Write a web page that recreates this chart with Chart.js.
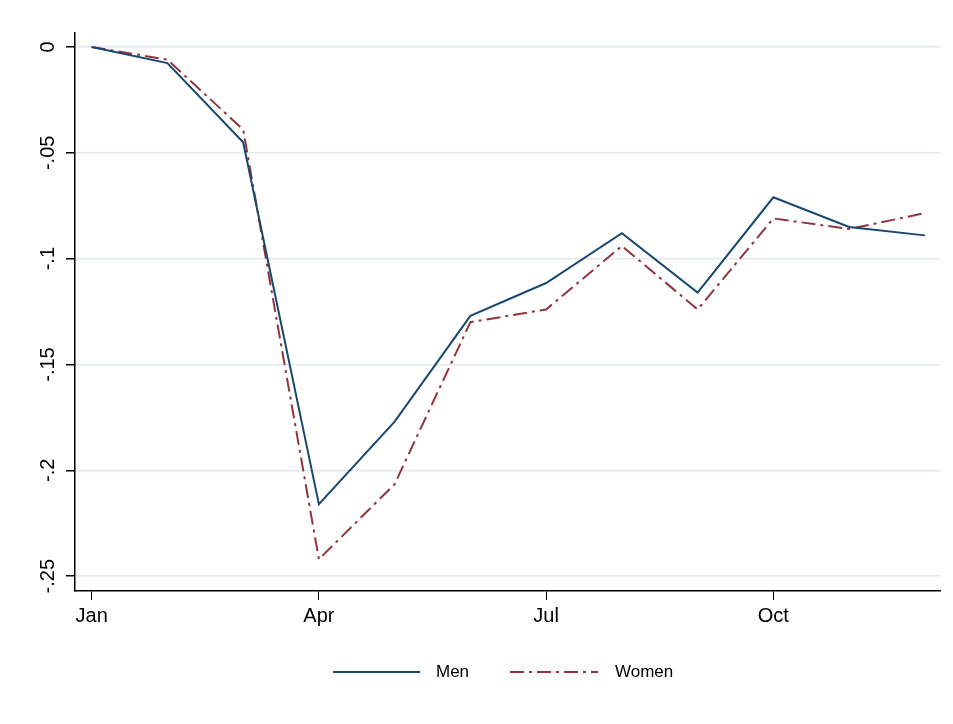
<!DOCTYPE html>
<html><head><meta charset="utf-8">
<script src="https://cdn.jsdelivr.net/npm/chart.js@4/dist/chart.umd.min.js"></script>
<style>html,body{margin:0;background:#fff}#w{width:953px;height:724px;position:relative}</style>
</head><body><div id="w"><canvas id="c"></canvas></div>
<script>
const months=['Jan','Feb','Mar','Apr','May','Jun','Jul','Aug','Sep','Oct','Nov','Dec'];
const monthIdx=[0,1,2,3,4,5,6,7,8,9,10,11];
const xTickValues=[0,3,6,9];
const yTickValues=[0,-0.05,-0.1,-0.15,-0.2,-0.25];
const yTickLabels=['0','-.05','-.1','-.15','-.2','-.25'];
const men=[0,-0.0076,-0.045,-0.216,-0.177,-0.127,-0.1115,-0.088,-0.116,-0.071,-0.085,-0.089];
const women=[0,-0.006,-0.039,-0.242,-0.2065,-0.130,-0.124,-0.094,-0.124,-0.081,-0.086,-0.0785];
const pts=a=>a.map((v,i)=>({x:monthIdx[i],y:v}));
const font='"Liberation Sans", Arial, sans-serif';
const rotY={id:'rotY',afterDraw(ch){
  const c=ch.ctx,s=ch.scales.y;c.save();c.fillStyle='#000';c.font='20px '+font;
  c.textAlign='center';c.textBaseline='middle';
  yTickValues.forEach((v,i)=>{const y=s.getPixelForValue(v);c.save();c.translate(48,y);c.rotate(-Math.PI/2);c.fillText(yTickLabels[i],0,0);c.restore();});
  // legend
  c.font='17px '+font;c.textAlign='left';c.lineWidth=2;
  c.strokeStyle='#1a476f';c.setLineDash([]);c.beginPath();c.moveTo(333,672);c.lineTo(420,672);c.stroke();
  c.fillText('Men',436,672);
  c.strokeStyle='#90353b';c.setLineDash([14,5,3,5]);c.beginPath();c.moveTo(510,672);c.lineTo(598,672);c.stroke();
  c.fillText('Women',615,672);
  c.restore();}};
new Chart(document.getElementById('c'),{type:'line',
 data:{datasets:[
  {label:'Men',data:pts(men),borderColor:'#1a476f',borderWidth:2,pointRadius:0,tension:0},
  {label:'Women',data:pts(women),borderColor:'#90353b',borderWidth:2,borderDash:[14,5,3,5],pointRadius:0,tension:0}]},
 options:{responsive:true,maintainAspectRatio:false,animation:false,
  layout:{padding:{top:33,right:13,left:0,bottom:0}},
  plugins:{legend:{display:false},tooltip:{enabled:false}},
  scales:{
   x:{type:'linear',min:-0.22,max:11.2,
    afterBuildTicks:s=>{s.ticks=xTickValues.map(v=>({value:v}));},
    afterFit:s=>{s.height=133;},
    ticks:{color:'#000',font:{size:20,family:font},padding:4,maxRotation:0,callback:v=>months[v]},
    grid:{drawOnChartArea:false,drawTicks:true,tickLength:9,tickColor:'#000'},
    border:{color:'#000',width:1.5}},
   y:{type:'linear',min:-0.257,max:0.0066,
    afterBuildTicks:s=>{s.ticks=yTickValues.map(v=>({value:v}));},
    afterFit:s=>{s.width=75;},
    ticks:{color:'rgba(0,0,0,0)',font:{size:20,family:font}},
    grid:{color:'#e1e9ee',lineWidth:1.5,tickLength:9,tickColor:'#000'},
    border:{color:'#000',width:1.5}}}},
 plugins:[rotY]});
</script></body></html>
